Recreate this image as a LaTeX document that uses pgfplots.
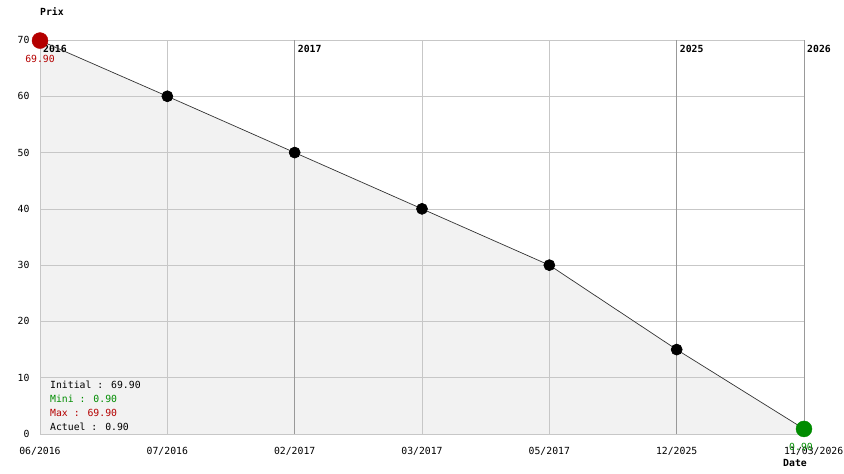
\documentclass[border=0pt]{standalone}
\usepackage{fontspec}
\setmainfont{DejaVu Sans Mono}
\usepackage{pgfplots}
\pgfplotsset{compat=1.18}
\definecolor{myred}{RGB}{180,0,0}
\definecolor{mygreen}{RGB}{0,140,0}
\newcommand{\f}{\fontsize{9.8}{11}\selectfont}
\begin{document}
\begin{tikzpicture}
\begin{axis}[
 set layers,
 scale only axis, width=764pt, height=394pt,
 xmin=0, xmax=6, ymin=0, ymax=70,
 axis line style={draw=none},
 major tick length=0pt,
 xtick={0,...,6},
 xticklabels={06/2016,07/2016,02/2017,03/2017,05/2017,12/2025,{}},
 ytick={0,10,...,70},
 grid=major, grid style={color=black!22, line width=0.6pt},
 extra x ticks={2,5,6}, extra x tick labels={},
 extra x tick style={grid=major, grid style={color=black!40, line width=0.8pt}},
 font=\f,
 tick label style={font=\f},
 /pgf/number format/assume math mode=true,
 yticklabel style={xshift=-7pt},
 xticklabel style={yshift=-10pt},
 clip=false,
]
\addplot[fill=black!5, draw=none, on layer=axis background] coordinates {(0,69.9) (1,60) (2,50) (3,40) (4,30) (5,15) (6,0.9)} \closedcycle;
\node[anchor=north west, inner sep=0pt, font=\f\bfseries] at (axis cs:0,70) [xshift=3pt, yshift=-5pt] {2016};
\node[anchor=north west, inner sep=0pt, font=\f\bfseries] at (axis cs:2,70) [xshift=3pt, yshift=-5pt] {2017};
\node[anchor=north west, inner sep=0pt, font=\f\bfseries] at (axis cs:5,70) [xshift=3pt, yshift=-5pt] {2025};
\node[anchor=north west, inner sep=0pt, font=\f\bfseries] at (axis cs:6,70) [xshift=3pt, yshift=-5pt] {2026};
\addplot[color=black!80, line width=0.7pt, mark=*, mark size=5.5pt, mark options={fill=black, draw=black}] coordinates {(0,69.9) (1,60) (2,50) (3,40) (4,30) (5,15) (6,0.9)};
\addplot[only marks, mark=*, mark size=8pt, color=myred] coordinates {(0,69.9)};
\addplot[only marks, mark=*, mark size=8pt, color=mygreen] coordinates {(6,0.9)};
\node[anchor=west, inner sep=0pt, font=\f\bfseries] at (axis cs:0,70) [yshift=28pt] {Prix};
\node[anchor=west, inner sep=0pt, font=\f\bfseries] at (axis cs:6,0) [xshift=-21pt, yshift=-29pt] {Date};
\node[anchor=west, inner sep=0pt] at (axis cs:6,0) [xshift=-20pt, yshift=-17pt] {11/03/2026};
\node[inner sep=0pt, text=myred] at (axis cs:0,70) [yshift=-19pt] {69.90};
\node[inner sep=0pt, text=mygreen] at (axis cs:6,0) [xshift=-3pt, yshift=-13pt] {0.90};
\node[anchor=west, inner sep=0pt] at (axis cs:0,0) [xshift=10pt, yshift=49pt] {Initial : 69.90};
\node[anchor=west, inner sep=0pt, text=mygreen] at (axis cs:0,0) [xshift=10pt, yshift=35pt] {Mini : 0.90};
\node[anchor=west, inner sep=0pt, text=myred] at (axis cs:0,0) [xshift=10pt, yshift=21pt] {Max : 69.90};
\node[anchor=west, inner sep=0pt] at (axis cs:0,0) [xshift=10pt, yshift=7pt] {Actuel : 0.90};
\end{axis}
\pgfresetboundingbox
\useasboundingbox (-40pt,-40pt) rectangle (804pt,434pt);
\end{tikzpicture}
\end{document}
